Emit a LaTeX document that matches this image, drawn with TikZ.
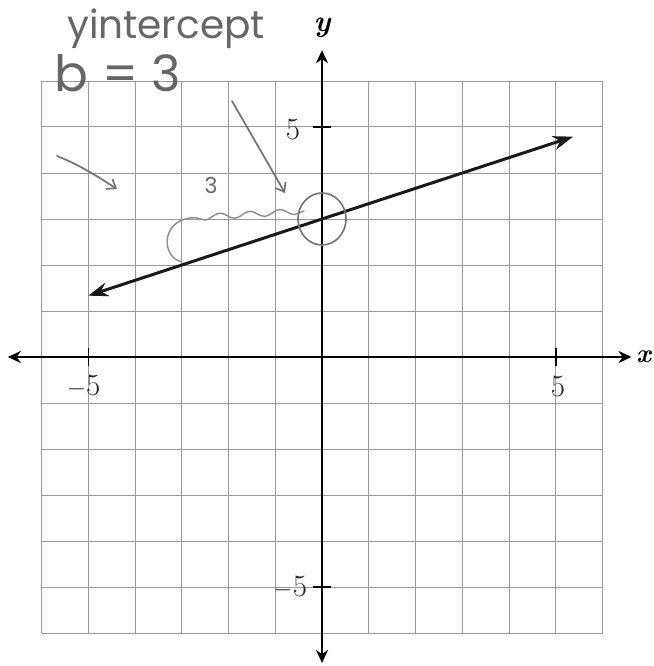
\documentclass[tikz,border=0pt]{standalone}
\usepackage{fontspec}
\newfontfamily\hand{Poppins}
\usetikzlibrary{arrows.meta,decorations.pathmorphing}
\tikzset{
  gridline/.style={draw=black!40, line width=1pt},
  axisline/.style={draw=black, line width=2.4pt, {Stealth[length=13pt,width=12pt]}-{Stealth[length=13pt,width=12pt]}},
  graphline/.style={draw=black!90, line width=3pt, {Stealth[length=20pt,width=14pt]}-{Stealth[length=20pt,width=14pt]}},
  tickmark/.style={draw=black, line width=1.5pt},
  ticklabel/.style={font=\fontsize{31}{31}\selectfont, text=black!85, inner sep=1pt},
  pencil/.style={draw=black!55, line width=1.7pt, line cap=round, line join=round},
  handtext/.style={text=black!60, inner sep=0pt}
}
\begin{document}
\begin{tikzpicture}[x=1pt,y=-1pt]
\useasboundingbox (0,0) rectangle (653,666);
\fill[white] (0,0) rectangle (653,666);
\begin{scope}[shift={(322,357)}, x=46.75pt, y=46pt]
  \draw[gridline, step=1] (-6,-6) grid (6,6);
  \coordinate (xl) at (-6.72,0);
  \coordinate (xr) at (6.62,0);
  \coordinate (yb) at (0,-6.65);
  \coordinate (yt) at (0,6.67);
  \draw[axisline] (xl) -- (xr);
  \draw[axisline] (yb) -- (yt);
  \node[font=\bfseries\itshape\fontsize{26}{26}\selectfont, anchor=west, inner sep=0pt] (xlab) at (6.72,0) {x};
  \node[font=\bfseries\itshape\fontsize{30}{30}\selectfont] (ylab) at (0,7.15) {y};
  \foreach \v in {-5,5} {
    \draw[tickmark] (\v,-0.2) -- (\v,0.2);
    \draw[tickmark] (-0.2,\v) -- (0.2,\v);
  }
  \node[ticklabel] (lxm) at (-5.1,-0.64) {$-$5};
  \node[ticklabel] (lxp) at (5.05,-0.64) {5};
  \node[ticklabel] (lyp) at (-0.62,4.95) {5};
  \node[ticklabel] (lym) at (-0.68,-5.0) {$-$5};
  \coordinate (pl) at (-5,1.333);
  \coordinate (pr) at (5.37,4.79);
  \draw[graphline] (pl) -- (pr);
  \coordinate (yint) at (0,3);
\end{scope}
% pencil annotations
\node[handtext, font=\hand\fontsize{39}{39}\selectfont] (t1) at (166,29) {yintercept};
\node[handtext, font=\hand\fontsize{50}{50}\selectfont] (t2) at (118,73) {b = 3};
\node[handtext, font=\hand\fontsize{22}{22}\selectfont] (t3) at (211,185) {3};
\coordinate (a1s) at (232,101);
\coordinate (a1e) at (285,193);
\draw[pencil, -{Straight Barb[length=8pt,width=12pt]}] (a1s) -- (a1e);
\coordinate (a2s) at (57,156);
\coordinate (a2e) at (117,189);
\draw[pencil, -{Straight Barb[length=8pt,width=12pt]}] (a2s) .. controls (80,165) and (100,178) .. (a2e);
\draw[pencil, line width=1.4pt, black!45, decorate, decoration={snake, amplitude=3pt, segment length=30pt}]
  (304,211) -- (190,218);
\draw[pencil, line width=1.4pt, black!45] (190,218) .. controls (160,222) and (162,258) .. (182,262);
\draw[pencil, line width=1.6pt, black!55] (yint) ellipse [x radius=24pt, y radius=26pt];
\end{tikzpicture}
\end{document}
